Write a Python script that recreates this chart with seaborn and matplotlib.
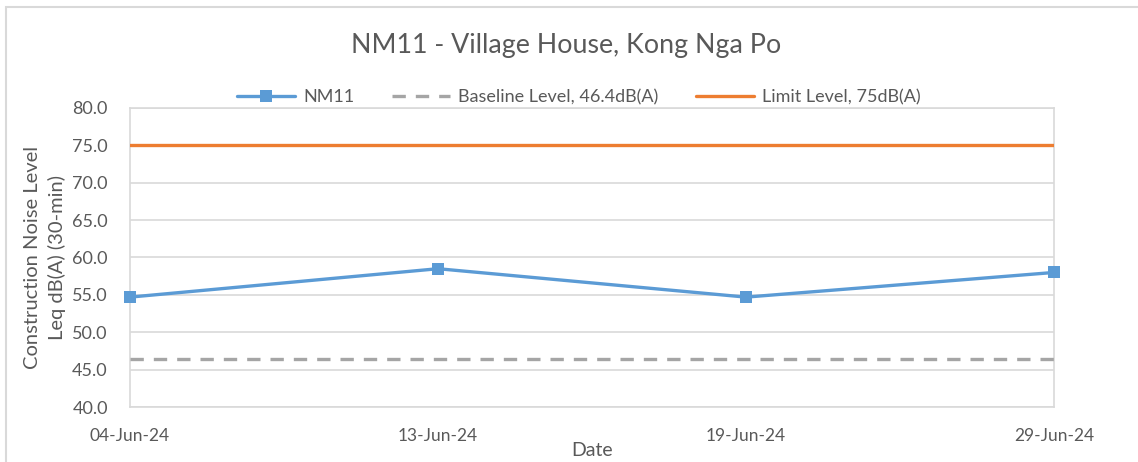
import matplotlib
matplotlib.use("Agg")
import matplotlib.pyplot as plt
import seaborn as sns
import pandas as pd
from matplotlib.patches import Rectangle

dates = ["04-Jun-24", "13-Jun-24", "19-Jun-24", "29-Jun-24"]
nm11 = [54.7, 58.5, 54.7, 58.0]
baseline = [46.4, 46.4, 46.4, 46.4]
limit = [75.0, 75.0, 75.0, 75.0]
yticks = [40.0, 45.0, 50.0, 55.0, 60.0, 65.0, 70.0, 75.0, 80.0]

sns.set_theme(style="white")
plt.rcParams['font.family'] = ['Lato', 'DejaVu Sans']
TXT = "#595959"

W, H = 1138, 462
fig = plt.figure(figsize=(W / 100, H / 100), dpi=100)
L, R, T, B = 130, 1054, 108, 407
ax = fig.add_axes([L / W, 1 - B / H, (R - L) / W, (B - T) / H])

df = pd.DataFrame({"Date": dates, "NM11": nm11, "Baseline": baseline, "Limit": limit})

sns.lineplot(data=df, x="Date", y="NM11", ax=ax, color="#5B9BD5", lw=2.4,
             marker="s", markersize=9, markeredgewidth=0, label="NM11",
             clip_on=False, zorder=4)
sns.lineplot(data=df, x="Date", y="Baseline", ax=ax, color="#A5A5A5", lw=2.4,
             label="Baseline Level, 46.4dB(A)", zorder=3)
sns.lineplot(data=df, x="Date", y="Limit", ax=ax, color="#ED7D31", lw=2.4,
             label="Limit Level, 75dB(A)", zorder=3)
ax.lines[1].set_linestyle((0, (4, 3)))

ax.set_xlim(0, len(dates) - 1)
ax.set_ylim(40, 80)
ax.set_yticks(yticks)
ax.set_yticklabels([f"{v:.1f}" for v in yticks])
ax.yaxis.grid(True, color="#D9D9D9", lw=1.2)
ax.xaxis.grid(False)
for s in ax.spines.values():
    s.set_color("#D9D9D9")
    s.set_linewidth(1.2)
ax.tick_params(axis="y", length=0, pad=16, labelsize=13, labelcolor=TXT)
ax.tick_params(axis="x", length=0, pad=15, labelsize=12.5, labelcolor=TXT)

ax.set_xlabel("Date", fontsize=14, color=TXT)
ax.xaxis.set_label_coords(0.5, (B - 450) / (B - T))
ax.xaxis.label.set_va("center")
ax.set_ylabel("")

fig.text(45 / W, 1 - 257 / H, "Construction Noise Level\nLeq dB(A) (30-min)",
         rotation=90, ha="center", va="center", fontsize=14.5, color=TXT,
         linespacing=1.5)

fig.text(566 / W, 1 - 45 / H, "NM11 - Village House, Kong Nga Po",
         ha="center", va="center", fontsize=19.3, color=TXT)

leg = ax.legend(loc="center", bbox_to_anchor=(579 / W, 1 - 97 / H),
                bbox_transform=fig.transFigure, ncol=3, frameon=False,
                fontsize=13, handlelength=3.2, columnspacing=2.1,
                handletextpad=0.45)
for t in leg.get_texts():
    t.set_color(TXT)

fig.patches.append(Rectangle((6 / W, -0.1), 1.2, 1 - 7 / H + 0.1,
                             transform=fig.transFigure, fill=False,
                             edgecolor="#D9D9D9", lw=1.5, zorder=0))

fig.savefig("out.png", dpi=100)
